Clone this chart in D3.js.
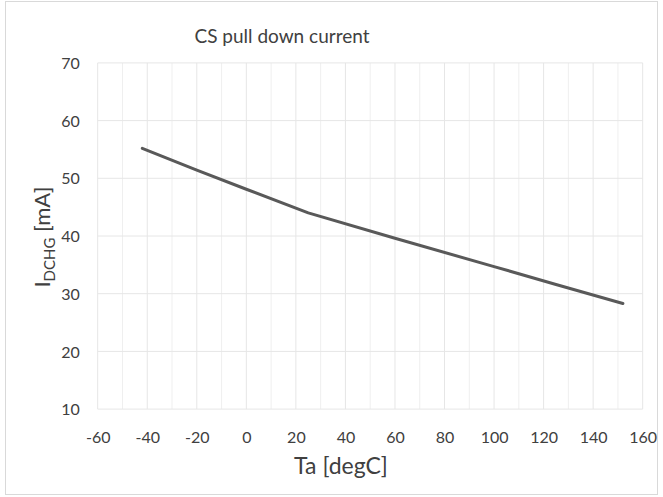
<!DOCTYPE html>
<html>
<head>
<meta charset="utf-8">
<script src="https://cdn.jsdelivr.net/npm/d3@7"></script>
<style>
  html, body { margin: 0; padding: 0; background: #fff; }
  svg { display: block; }
  text { font-family: Lato, "Open Sans", sans-serif; fill: #404040; }
</style>
</head>
<body>
<div id="chart"></div>
<script>
const title = "CS pull down current";
const xLabel = "Ta [degC]";
const temperature = [-42, -20, 0, 25, 60, 100, 125, 152];
const current = [55.2, 51.4, 48.1, 44.0, 39.6, 34.7, 31.6, 28.3];
const xTicks = [-60, -40, -20, 0, 20, 40, 60, 80, 100, 120, 140, 160];
const xMinorGrid = [-50, -30, -10, 10, 30, 50, 70, 90, 110, 130, 150];
const yTicks = [10, 20, 30, 40, 50, 60, 70];

const W = 663, H = 497;
const margin = { left: 97.7, right: W - 642.7, top: 62.9, bottom: H - 409.1 };

const svg = d3.select("#chart").append("svg").attr("width", W).attr("height", H);

svg.append("rect").attr("x", 5.5).attr("y", 1.5).attr("width", 652).attr("height", 493)
  .attr("fill", "#fff").attr("stroke", "#d9d9d9").attr("stroke-width", 1);

const x = d3.scaleLinear().domain([-60, 160]).range([margin.left, W - margin.right]);
const y = d3.scaleLinear().domain([10, 70]).range([H - margin.bottom, margin.top]);

const g = svg.append("g");

g.selectAll("line.minor").data(xMinorGrid).join("line")
  .attr("class", "minor")
  .attr("x1", d => x(d)).attr("x2", d => x(d))
  .attr("y1", y(10)).attr("y2", y(70))
  .attr("stroke", "#efefef").attr("stroke-width", 1);

g.selectAll("line.vmajor").data(xTicks).join("line")
  .attr("class", "vmajor")
  .attr("x1", d => x(d)).attr("x2", d => x(d))
  .attr("y1", y(10)).attr("y2", y(70))
  .attr("stroke", "#e6e6e6").attr("stroke-width", 1);

g.selectAll("line.h").data(yTicks).join("line")
  .attr("class", "h")
  .attr("x1", x(-60)).attr("x2", x(160))
  .attr("y1", d => y(d)).attr("y2", d => y(d))
  .attr("stroke", "#e6e6e6").attr("stroke-width", 1);

const fmt = d => String(d);

const xAxis = d3.axisBottom(x).tickValues(xTicks).tickFormat(fmt).tickSize(0).tickPadding(0);
const xg = svg.append("g").attr("transform", `translate(0,${y(10)})`).call(xAxis);
xg.select(".domain").remove();
xg.selectAll("text").attr("dy", null).attr("y", 34).style("font-size", "16px")
  .style("font-family", "Lato, 'Open Sans', sans-serif").attr("fill", "#404040");

const yAxis = d3.axisLeft(y).tickValues(yTicks).tickFormat(fmt).tickSize(0).tickPadding(0);
const yg = svg.append("g").attr("transform", `translate(${x(-60)},0)`).call(yAxis);
yg.select(".domain").remove();
yg.selectAll("text").attr("x", -18).attr("dy", "0.35em").style("font-size", "16px")
  .style("font-family", "Lato, 'Open Sans', sans-serif").attr("fill", "#404040");

const data = temperature.map((t, i) => ({ t, v: current[i] }));
const line = d3.line().x(d => x(d.t)).y(d => y(d.v));
svg.append("path").datum(data).attr("d", line)
  .attr("fill", "none").attr("stroke", "#595959").attr("stroke-width", 3)
  .attr("stroke-linecap", "round").attr("stroke-linejoin", "round");

svg.append("text").attr("x", 282).attr("y", 43).attr("text-anchor", "middle")
  .style("font-size", "19px").text(title);

svg.append("text").attr("x", 341).attr("y", 474).attr("text-anchor", "middle")
  .style("font-size", "23px").text(xLabel);

const yl = svg.append("text").attr("transform", "translate(50,237) rotate(-90)")
  .attr("text-anchor", "middle").style("font-size", "22px");
yl.append("tspan").text("I");
yl.append("tspan").attr("dy", 5).style("font-size", "15px").text("DCHG");
yl.append("tspan").attr("dy", -5).text(" [mA]");
</script>
</body>
</html>
